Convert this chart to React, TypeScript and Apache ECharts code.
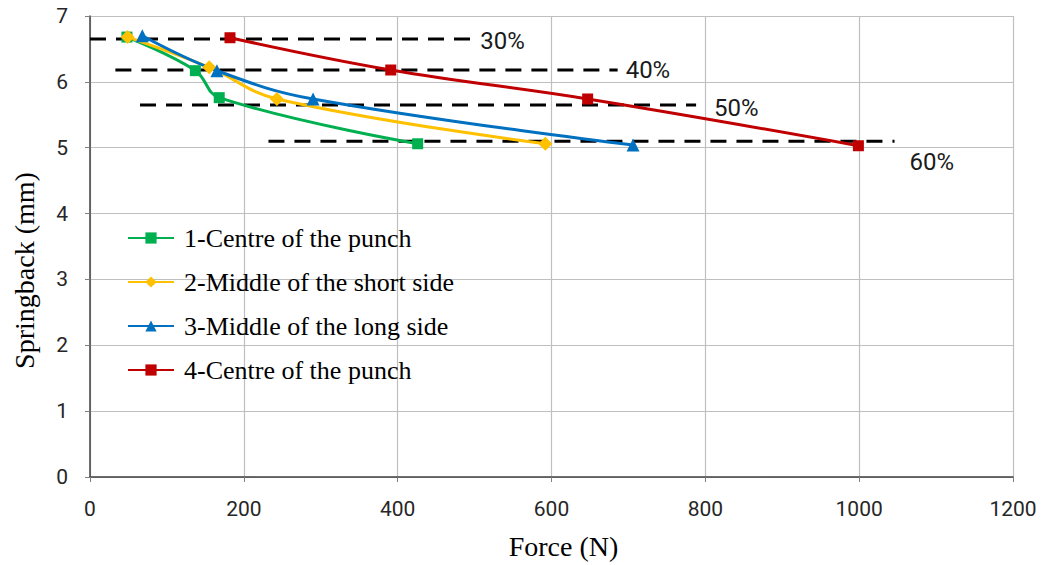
import React, { useEffect, useRef } from "react";
import * as echarts from "echarts";

// ---- data ----
const seriesNames = [
  "1-Centre of the punch",
  "2-Middle of the short side",
  "3-Middle of the long side",
  "4-Centre of the punch",
];
const force1 = [48, 137, 168, 426];
const spring1 = [6.68, 6.17, 5.76, 5.06];
const force2 = [49, 155, 243, 592];
const spring2 = [6.68, 6.22, 5.74, 5.06];
const force3 = [68, 165, 290, 706];
const spring3 = [6.7, 6.17, 5.74, 5.04];
const force4 = [182, 391, 647, 999];
const spring4 = [6.67, 6.18, 5.74, 5.03];

const refLabels = ["30%", "40%", "50%", "60%"];
const refLevels = [6.65, 6.18, 5.65, 5.1];
const refStart = [0, 33, 65, 232];
const refEnd = [497, 686, 788, 1046];

const xMin = 0;
const xMax = 1200;
const xStep = 200;
const yMin = 0;
const yMax = 7;
const yStep = 1;

const colors = ["#00B050", "#FFC000", "#0070C0", "#C00000"];
const symbols = ["rect", "diamond", "triangle", "rect"];
const symbolSizes = [11, 14, 13, 11];
const labelOffsets: [number, number][] = [
  [3, 2],
  [3, 0],
  [13, 3],
  [10, 21],
];

const zip = (a: number[], b: number[]) => a.map((v, i) => [v, b[i]]);

export default function App() {
  const ref = useRef<HTMLDivElement>(null);
  useEffect(() => {
    if (!ref.current) return;
    const chart = echarts.init(ref.current, undefined, { renderer: "svg" });
    const forces = [force1, force2, force3, force4];
    const springs = [spring1, spring2, spring3, spring4];

    const curveSeries = seriesNames.map((name, i) => ({
      name,
      type: "line",
      data: zip(forces[i], springs[i]),
      smooth: 0.4,
      symbol: symbols[i],
      symbolSize: symbolSizes[i],
      itemStyle: { color: colors[i] },
      lineStyle: { color: colors[i], width: 3 },
      z: 3,
    }));

    const refSeries = refLabels.map((lab, i) => ({
      name: "ref" + lab,
      type: "line",
      data: [
        [refStart[i], refLevels[i]],
        [refEnd[i], refLevels[i]],
      ],
      symbol: "none",
      showSymbol: false,
      endLabel: {
        show: true,
        formatter: lab,
        distance: 5,
        offset: labelOffsets[i],
        fontFamily: "Roboto",
        fontSize: 24,
        color: "#1a1a1a",
      },
      lineStyle: { color: "#000", width: 3, type: [16, 10] },
      z: 2,
      silent: true,
    }));

    chart.setOption({
      animation: false,
      backgroundColor: "#fff",
      grid: { left: 90, right: 29, top: 16, bottom: 88, containLabel: false },
      legend: {
        data: seriesNames,
        orient: "vertical",
        left: 122,
        top: 220,
        itemWidth: 46,
        itemHeight: 14,
        itemGap: 18,
        textStyle: {
          fontFamily: "Liberation Serif",
          fontSize: 26,
          color: "#000",
          padding: [0, 0, 0, 5],
        },
      },
      xAxis: {
        type: "value",
        min: xMin,
        max: xMax,
        interval: xStep,
        name: "Force (N)",
        nameLocation: "middle",
        nameGap: 55,
        nameTextStyle: {
          fontFamily: "Liberation Serif",
          fontSize: 28,
          color: "#000",
          padding: [0, 0, 0, 24],
        },
        axisLine: { show: true, lineStyle: { color: "#404040", width: 1.5 } },
        axisTick: { show: true, length: 5, lineStyle: { color: "#808080" } },
        axisLabel: {
          fontFamily: "Roboto",
          fontSize: 21,
          color: "#262626",
          margin: 21,
          formatter: (v: number) => String(v),
        },
        splitLine: { show: true, lineStyle: { color: "#BFBFBF", width: 1.2 } },
      },
      yAxis: {
        type: "value",
        min: yMin,
        max: yMax,
        interval: yStep,
        name: "Springback (mm)",
        nameLocation: "middle",
        nameGap: 52,
        nameTextStyle: {
          fontFamily: "Liberation Serif",
          fontSize: 28,
          color: "#000",
          padding: [0, 48, 0, 0],
        },
        axisLine: { show: true, lineStyle: { color: "#404040", width: 1.5 } },
        axisTick: { show: true, length: 5, lineStyle: { color: "#808080" } },
        axisLabel: {
          fontFamily: "Roboto",
          fontSize: 21,
          color: "#262626",
          margin: 22,
          formatter: (v: number) => String(v),
        },
        splitLine: { show: true, lineStyle: { color: "#BFBFBF", width: 1.2 } },
      },
      series: [...refSeries, ...curveSeries],
    });
    return () => chart.dispose();
  }, []);
  return <div ref={ref} style={{ width: 1042, height: 565, position: "absolute", left: 0, top: 0 }} />;
}
